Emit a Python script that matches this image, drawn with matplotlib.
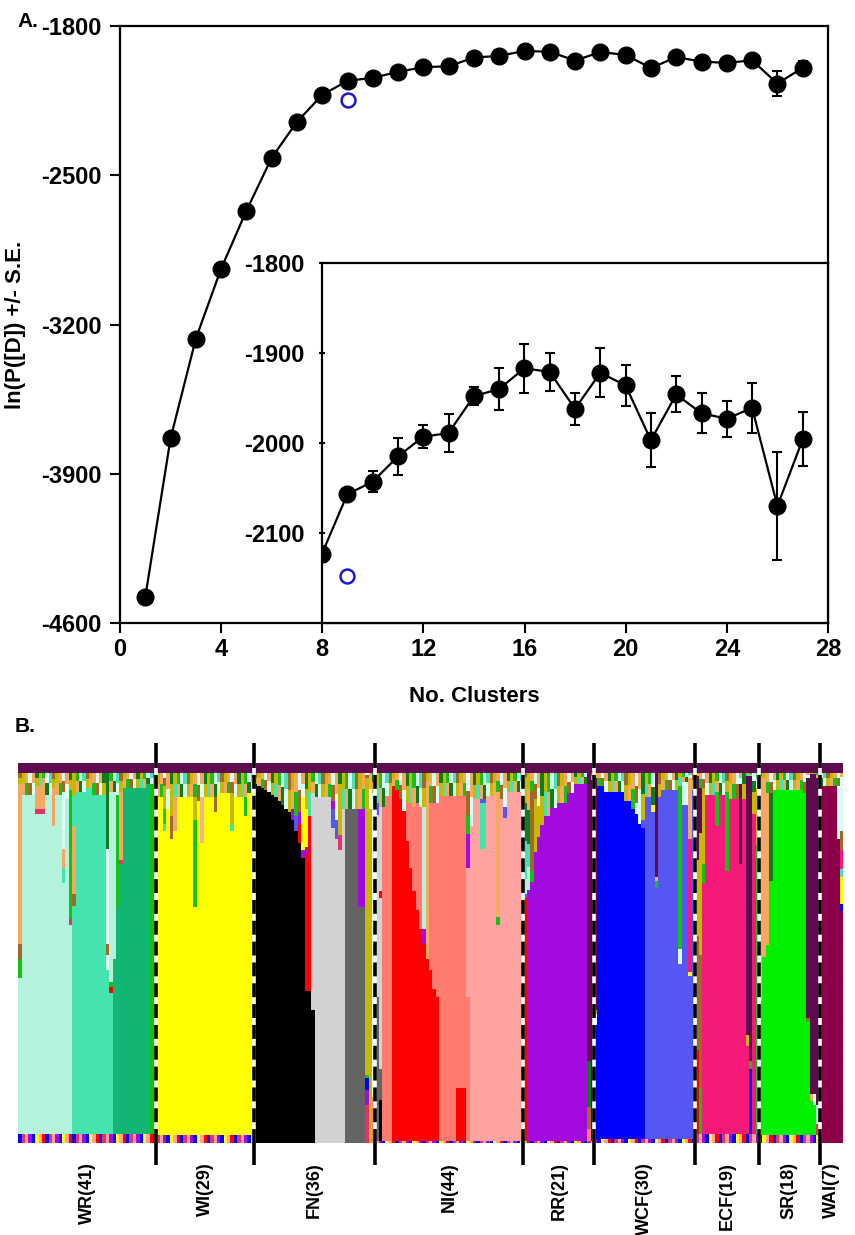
import matplotlib
matplotlib.use('Agg')
import matplotlib.pyplot as plt
import numpy as np

plt.rcParams['font.family'] = ['Liberation Sans', 'DejaVu Sans']
plt.rcParams['font.weight'] = 'bold'
plt.rcParams['lines.scale_dashes'] = False
plt.rcParams['axes.unicode_minus'] = False

# ---------------- Panel A data ----------------
K = list(range(1, 28))
lnP = [-4478, -3734, -3266, -2938, -2666, -2418, -2249, -2123, -2057, -2043,
       -2015, -1993, -1989, -1948, -1940, -1917, -1921, -1962, -1922, -1936,
       -1997, -1946, -1967, -1973, -1961, -2070, -1996]
SE = [0, 0, 0, 0, 0, 0, 0, 9, 3, 12, 21, 13, 21, 10, 23, 27, 21, 18, 27, 23,
      30, 20, 22, 20, 28, 60, 30]
BLUE_K = [9]
BLUE_LNP = [-2148]
MAIN_YTICKS = [-1800, -2500, -3200, -3900, -4600]
INSET_YTICKS = [-1800, -1900, -2000, -2100]
XTICKS = [0, 4, 8, 12, 16, 20, 24, 28]

# ---------------- Panel B data ----------------
GROUP_NAMES = ['WR', 'WI', 'FN', 'NI', 'RR', 'WCF', 'ECF', 'SR', 'WAI']
GROUP_N = [41, 29, 36, 44, 21, 30, 19, 18, 7]
GROUP_BOTTOM = [0.025, 0.02, 0.0, 0.004, 0.006, 0.01, 0.025, 0.02, 0.0]

COLORS = {
    'P': '#5e0b4f', 'm1': '#b4f2dc', 'A': '#45e3ad', 'DM': '#12b673',
    'G': '#14c214', 'DG': '#0b7d1f', 'T': '#f5a860', 'Ol': '#c9b800',
    'Br': '#a0692a', 'Y': '#ffff00', 'K': '#000000', 'LG': '#d2d2d2',
    'DGr': '#646464', 'R': '#ff0000', 'S': '#ff7b70', 'SL': '#ffa3a0',
    'Pu': '#a30ae0', 'B': '#0000ff', 'Pw': '#5656f2', 'HP': '#f51a7a',
    'L': '#00f000', 'M': '#8e0048', 'W': '#d8fff4', 'Pk': '#e8306a',
    'Ts': '#f7b48c',
}

# entries: (count, (cluster, q, cluster, q, ...)) from bottom upward
WR = [
    (1, ('m1', .41, 'G', .05, 'Br', .04, 'T', .42)),
    (4, ('m1', .89)),
    (3, ('m1', .84, 'Pk', .015, 'T', .06)),
    (2, ('m1', .89)),
    (1, ('m1', .81, 'T', .10)),
    (2, ('m1', .89)),
    (1, ('m1', .66, 'A', .04, 'T', .05, 'W', .15)),
    (1, ('m1', .88)),
    (1, ('m1', .55, 'Pk', .015, 'G', .34)),
    (1, ('A', .60, 'Br', .03, 'T', .18)),
    (3, ('A', .90)),
    (2, ('A', .91)),
    (4, ('A', .89)),
    (1, ('A', .43, 'W', .04, 'Br', .03, 'W', .25, 'DG', .20)),
    (1, ('A', .37, 'R', .015, 'G', .015, 'm1', .50)),
    (1, ('DM', .46, 'm1', .44)),
    (1, ('DM', .60, 'G', .29)),
    (1, ('DM', .71, 'Pk', .01, 'T', .18)),
    (7, ('DM', .91)),
    (1, ('DM', .92)),
    (2, ('G', .92)),
]
WI = [
    (2, ('Y', .89)),
    (1, ('Y', .80, 'A', .02, 'G', .04, 'Ol', .06)),
    (1, ('Y', .86)),
    (1, ('Y', .78, 'Br', .06, 'Ol', .05)),
    (1, ('Y', .80, 'T', .09)),
    (5, ('Y', .89)),
    (1, ('Y', .60, 'G', .23, 'Ol', .06)),
    (1, ('Y', .88)),
    (1, ('Y', .77, 'Ts', .12)),
    (3, ('Y', .89)),
    (1, ('Y', .85, 'Br', .04)),
    (4, ('Y', .90)),
    (1, ('Y', .80, 'A', .02, 'Ol', .08)),
    (3, ('Y', .89)),
    (1, ('Y', .84, 'G', .05)),
    (2, ('Y', .90)),
]
FN = [
    (1, ('K', .945)), (1, ('K', .94)), (1, ('K', .935)), (1, ('K', .93)),
    (1, ('K', .925)), (1, ('K', .915)), (1, ('K', .91)), (1, ('K', .90)),
    (1, ('K', .89)), (1, ('K', .88)), (1, ('K', .87)),
    (1, ('K', .85, 'Pu', .03)),
    (1, ('K', .82, 'Pw', .04)),
    (1, ('K', .79, 'R', .05, 'Pu', .03)),
    (1, ('K', .75, 'Pu', .02, 'Y', .14)),
    (1, ('K', .40, 'R', .36, 'Pu', .02, 'Y', .10)),
    (1, ('K', .40, 'R', .46)),
    (1, ('K', .35, 'LG', .57)),
    (5, ('LG', .91)),
    (1, ('LG', .83, 'Pw', .05, 'Pu', .02)),
    (1, ('LG', .80, 'Pw', .05)),
    (1, ('LG', .77, 'Pk', .04, 'Ol', .10)),
    (1, ('LG', .88)),
    (4, ('DGr', .88)),
    (2, ('DGr', .62, 'Pu', .26)),
    (1, ('Pk', .10, 'Pu', .04, 'B', .03, 'G', .01, 'Ol', .78)),
    (1, ('Ol', .88)),
    (1, ('S', .12, 'W', .80)),
]
NI = [
    (1, ('DGr', .38, 'LG', .48, 'Pw', .03)),
    (1, ('K', .11, 'DGr', .08, 'LG', .45, 'R', .02, 'LG', .22)),
    (1, ('S', .88)),
    (2, ('S', .91)),
    (1, ('R', .935)), (1, ('R', .925)), (1, ('R', .90)), (1, ('R', .87)),
    (1, ('R', .79, 'S', .10)),
    (1, ('R', .72, 'S', .17)),
    (1, ('R', .66, 'S', .22)),
    (1, ('R', .61, 'S', .28)),
    (1, ('R', .56, 'S', .32)),
    (1, ('R', .52, 'Pu', .04, 'm1', .32)),
    (1, ('R', .48, 'T', .44)),
    (1, ('R', .45, 'S', .44)),
    (1, ('R', .40, 'S', .49)),
    (1, ('R', .38, 'S', .51)),
    (5, ('S', .91)),
    (3, ('R', .14, 'S', .77)),
    (1, ('S', .38, 'SL', .34, 'Pu', .09, 'G', .05)),
    (1, ('SL', .83)),
    (2, ('SL', .90)),
    (2, ('SL', .77, 'A', .12, 'Pw', .01)),
    (3, ('SL', .91)),
    (1, ('SL', .57, 'G', .02, 'T', .33)),
    (1, ('SL', .90)),
    (1, ('SL', .85, 'Pw', .03)),
    (5, ('SL', .92)),
]
RR = [
    (1, ('R', .64, 'Pw', .01, 'm1', .04, 'A', .10, 'DG', .10, 'Ol', .05)),
    (1, ('Pu', .66, 'm1', .06, 'A', .06, 'DG', .09)),
    (1, ('Pu', .68, 'G', .03, 'Br', .21)),
    (1, ('Pu', .76, 'Ol', .14)),
    (1, ('Pu', .80, 'Ol', .08)),
    (1, ('Pu', .83)),
    (2, ('Pu', .855)),
    (2, ('Pu', .875)),
    (3, ('Pu', .89)),
    (2, ('Pu', .915)),
    (4, ('Pu', .94)),
    (1, ('S', .03, 'Br', .06, 'DG', .12, 'P', .76)),
    (1, ('P', .95)),
]
WCF = [
    (1, ('B', .30, 'W', .03, 'Ol', .01, 'P', .61)),
    (2, ('B', .93)),
    (6, ('B', .915)),
    (2, ('B', .89)),
    (1, ('B', .87)),
    (1, ('B', .855, 'W', .03)),
    (1, ('B', .83, 'W', .04)),
    (1, ('B', .82, 'Pw', .02)),
    (2, ('Pw', .90)),
    (1, ('Pw', .86, 'Y', .02)),
    (1, ('Pw', .66, 'G', .02, 'T', .01, 'P', .28)),
    (1, ('Pw', .90)),
    (5, ('Pw', .92)),
    (1, ('Pw', .46, 'W', .04, 'G', .43)),
    (2, ('Pw', .88, 'W', .06)),
    (1, ('Pw', .43, 'Y', .01, 'HP', .35, 'T', .16)),
    (1, ('Pw', .92)),
]
ECF = [
    (1, ('R', .22, 'Br', .30, 'Ol', .20, 'P', .22)),
    (1, ('G', .12, 'Br', .35, 'Ol', .32, 'P', .12)),
    (1, ('HP', .66, 'G', .05, 'Ol', .20)),
    (3, ('HP', .89)),
    (1, ('HP', .81, 'G', .09)),
    (2, ('HP', .89)),
    (1, ('HP', .69, 'G', .21)),
    (3, ('HP', .88)),
    (1, ('HP', .71, 'P', .21)),
    (1, ('HP', .88)),
    (1, ('HP', .23, 'Ol', .03, 'P', .68)),
    (1, ('B', .17, 'G', .02, 'P', .75)),
    (1, ('HP', .84, 'Ol', .06)),
    (1, ('G', .76, 'Ol', .15)),
]
SR = [
    (1, ('L', .355, 'T', .58)),
    (1, ('L', .47, 'T', .45)),
    (1, ('L', .50, 'T', .40)),
    (1, ('L', .67, 'DG', .23)),
    (9, ('L', .91)),
    (1, ('L', .90)),
    (1, ('L', .30, 'Br', .01, 'P', .63)),
    (1, ('L', .09, 'T', .02, 'P', .84)),
    (1, ('L', .08, 'W', .03, 'P', .84)),
    (1, ('Pk', .03, 'm1', .05, 'P', .86)),
]
WAI = [
    (5, ('M', .94)),
    (1, ('M', .80, 'W', .14)),
    (1, ('M', .61, 'B', .02, 'Y', .07, 'A', .02, 'HP', .05, 'Br', .05, 'W', .13)),
]
GROUP_DATA = [WR, WI, FN, NI, RR, WCF, ECF, SR, WAI]

FRINGE_CYCLE = ['Ol', 'T', 'G', 'Br', 'W', 'Ol', 'A', 'T', 'DG', 'W']
BOTTOM_CYCLE = ['B', 'Pk', 'SL', 'Pu', 'B', 'Y', 'SL', 'R']
TOP_BAND = 0.025

# ---------------- Figure ----------------
W, H = 855, 1235
fig = plt.figure(figsize=(W / 100, H / 100), dpi=100)

def fx(px):
    return px / W

def fy(py):
    return 1 - py / H

# main axes
ax = fig.add_axes([fx(120), fy(623), fx(828) - fx(120), fy(26) - fy(623)])
ax.errorbar(K, lnP, yerr=SE, color='k', marker='o', ms=12, lw=1.6,
            elinewidth=1.5, capsize=3.5, capthick=1.5, zorder=3)
ax.plot(BLUE_K, BLUE_LNP, ls='none', marker='o', mfc='none', mec='#1a1ad0',
        ms=10, mew=1.8, zorder=4)
ax.set_xlim(0, 28)
ax.set_ylim(-4600, -1800)
ax.set_xticks(XTICKS)
ax.set_yticks(MAIN_YTICKS)
ax.tick_params(direction='out', length=7, width=1.5, labelsize=17, pad=4)
ax.tick_params(axis='y', pad=6)
for lab in ax.get_xticklabels() + ax.get_yticklabels():
    lab.set_fontweight('bold')
for s in ax.spines.values():
    s.set_linewidth(1.6)
ax.set_ylabel('ln(P([D]) +/- S.E.', fontsize=16, fontweight='bold')
ax.yaxis.set_label_coords((26 - 120) / 708, 0.5)
fig.text(fx(474), fy(697), 'No. Clusters', ha='center', va='center',
         fontsize=16, fontweight='bold')
fig.text(fx(17), fy(27), 'A.', ha='left', va='baseline', fontsize=15,
         fontweight='bold')

# inset axes
ins = fig.add_axes([fx(322), fy(623), fx(828) - fx(322), fy(263) - fy(623)])
ins.errorbar(K, lnP, yerr=SE, color='k', marker='o', ms=12, lw=1.6,
             elinewidth=1.5, capsize=3.5, capthick=1.5, zorder=3)
ins.plot(BLUE_K, BLUE_LNP, ls='none', marker='o', mfc='none', mec='#1a1ad0',
         ms=10, mew=1.8, zorder=4)
ins.set_xlim(8, 28)
ins.set_ylim(-2200, -1800)
ins.set_xticks([])
ins.set_yticks(INSET_YTICKS)
ins.tick_params(axis='y', direction='inout', length=5, width=1.5,
                labelsize=17, pad=10)
for lab in ins.get_yticklabels():
    lab.set_fontweight('bold')
for s in ins.spines.values():
    s.set_linewidth(1.6)
ins.set_facecolor('white')

# structure plot
sax = fig.add_axes([fx(18.3), fy(1143), fx(843.3) - fx(18.3), fy(763) - fy(1143)])
total = sum(GROUP_N)
segs = {}
idx = 0
for g, (data, nexp, bot) in enumerate(zip(GROUP_DATA, GROUP_N, GROUP_BOTTOM)):
    cnt = 0
    for n, comps in data:
        for _ in range(n):
            y = 0.0
            pieces = [(BOTTOM_CYCLE[idx % len(BOTTOM_CYCLE)], bot)]
            for c, q in zip(comps[0::2], comps[1::2]):
                pieces.append((c, q))
            used = sum(q for _, q in pieces)
            fr = max(0.0, 1 - TOP_BAND - used)
            pieces.append((FRINGE_CYCLE[idx % len(FRINGE_CYCLE)], fr * 0.55))
            pieces.append((FRINGE_CYCLE[(idx * 7 + 3) % len(FRINGE_CYCLE)], fr * 0.45))
            for c, q in pieces:
                if q > 0:
                    segs.setdefault(c, [[], [], []])
                    segs[c][0].append(idx)
                    segs[c][1].append(y)
                    segs[c][2].append(q)
                y += q
            idx += 1
            cnt += 1
    assert cnt == nexp, (GROUP_NAMES[g], cnt, nexp)

for c, (xs, bs, hs) in segs.items():
    sax.bar(xs, hs, bottom=bs, width=1.0, align='edge', color=COLORS[c],
            linewidth=0, antialiased=False)
sax.bar(np.arange(total), [TOP_BAND] * total, bottom=1 - TOP_BAND, width=1.0,
        align='edge', color=COLORS['P'], linewidth=0, antialiased=False)
sax.set_xlim(0, total)
sax.set_ylim(0, 1)
sax.set_xticks([])
sax.set_yticks([])
for s in sax.spines.values():
    s.set_visible(False)

bounds = np.cumsum(GROUP_N)
for b in bounds[:-1]:
    sax.plot([b, b], [0, 1], color='white', lw=2.6, solid_capstyle='butt', zorder=5)
    sax.plot([b, b], [0, 1], color='black', lw=2.6, dashes=(10, 5),
             dash_capstyle='butt', zorder=6)
    sax.plot([b, b], [1.0, 1.053], color='black', lw=2.6, clip_on=False,
             solid_capstyle='butt', zorder=6)
    sax.plot([b, b], [0.0, -0.058], color='black', lw=2.6, clip_on=False,
             solid_capstyle='butt', zorder=6)

starts = np.concatenate([[0], bounds[:-1]])
for name, n, s0, e0 in zip(GROUP_NAMES, GROUP_N, starts, bounds):
    sax.text((s0 + e0) / 2, -0.05, f'{name}({n})', rotation=90, ha='center',
             va='top', fontsize=13, fontweight='bold', clip_on=False)

fig.text(fx(15), fy(732), 'B.', ha='left', va='baseline', fontsize=15,
         fontweight='bold')

fig.savefig('out.png', dpi=100)
